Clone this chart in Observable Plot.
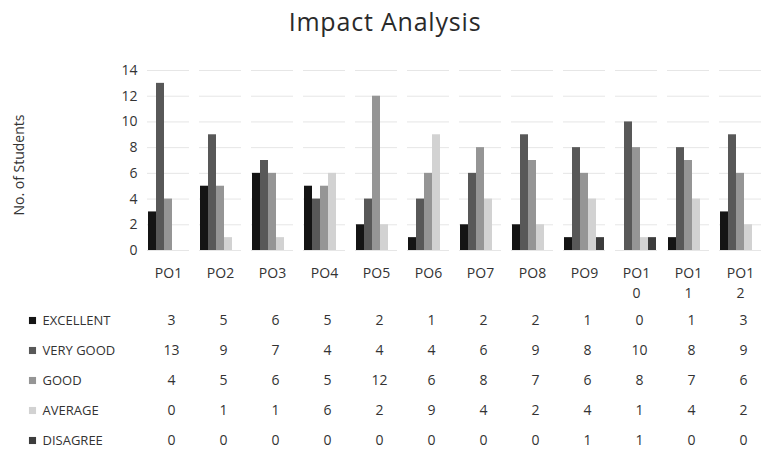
<!DOCTYPE html>
<html>
<head>
<meta charset="utf-8">
<script src="https://cdn.jsdelivr.net/npm/d3@7"></script>
<script src="https://cdn.jsdelivr.net/npm/@observablehq/plot@0.6"></script>
<style>
  html, body { margin: 0; padding: 0; background: #fff; }
  #wrap { width: 768px; height: 450px; position: relative; font-family: "Open Sans", sans-serif; color: #333; overflow: hidden; }
  #title { height: 45px; line-height: 42px; text-align: center; font-size: 25px; letter-spacing: 0.8px; color: #2a2a2a; padding-left: 2px; }
  #ylabel { position: absolute; left: 18px; top: 165px; transform: translate(-50%, -50%) rotate(-90deg); white-space: nowrap; font-size: 14px; color: #333; }
  svg { display: block; }
</style>
</head>
<body>
<div id="wrap">
  <div id="title">Impact Analysis</div>
  <div id="ylabel">No. of Students</div>
  <div id="chart"></div>
  <div id="table"></div>
</div>
<script>
const categories = ["PO1","PO2","PO3","PO4","PO5","PO6","PO7","PO8","PO9","PO10","PO11","PO12"];
const series = ["Excellent","Very Good","Good","Average","Disagree"];
const excellent = [3,5,6,5,2,1,2,2,1,0,1,3];
const veryGood  = [13,9,7,4,4,4,6,9,8,10,8,9];
const good      = [4,5,6,5,12,6,8,7,6,8,7,6];
const average   = [0,1,1,6,2,9,4,2,4,1,4,2];
const disagree  = [0,0,0,0,0,0,0,0,1,1,0,0];
const yTicks = [0,2,4,6,8,10,12,14];
const colors = ["#141414","#585858","#959595","#d2d2d2","#3c3c3c"];

const valuesBySeries = [excellent, veryGood, good, average, disagree];
const rows = [];
series.forEach((s, i) => categories.forEach((c, j) => rows.push({po: c, series: s, value: valuesBySeries[i][j]})));

const labelFmt = d => d.length > 3 ? d.slice(0, 3) + "\n" + d.slice(3) : d;
const font = "'Open Sans', sans-serif";

const chart = Plot.plot({
  width: 768,
  height: 265,
  marginLeft: 142,
  marginRight: 2,
  marginTop: 25,
  marginBottom: 60,
  style: {fontFamily: font, fontSize: "14px", color: "#333", background: "#fff"},
  fx: {domain: categories, paddingInner: 0.2, paddingOuter: 0.1, label: null, axis: null},
  x: {domain: series, padding: 0, axis: null},
  y: {domain: [0, 14], ticks: yTicks, label: null, axis: null},
  color: {domain: series, range: colors},
  marks: [
    Plot.gridY(yTicks, {stroke: "#e6e6e6", strokeOpacity: 1}),
    Plot.axisY(yTicks, {tickSize: 0, tickPadding: 10, fontSize: 14, fill: "#333", label: null}),
    Plot.axisFx({anchor: "bottom", tickSize: 0, tickPadding: 14, fontSize: 14, fill: "#333", tickFormat: labelFmt, label: null, lineHeight: 1.4}),
    Plot.barY(rows, {fx: "po", x: "series", y: "value", fill: "series", inset: 0})
  ]
});
document.getElementById("chart").appendChild(chart);

const table = Plot.plot({
  width: 768,
  height: 140,
  marginLeft: 142,
  marginRight: 2,
  marginTop: 10,
  marginBottom: 10,
  style: {fontFamily: font, fontSize: "14px", color: "#333", background: "#fff"},
  x: {domain: categories, type: "band", padding: 0, axis: null},
  y: {domain: series, type: "point", padding: 0, axis: null},
  color: {domain: series, range: colors},
  marks: [
    Plot.text(rows, {x: "po", y: "series", text: d => String(d.value), fontSize: 14, fill: "#333", dx: 3}),
    Plot.dot(series, {y: d => d, frameAnchor: "left", dx: -110, symbol: "square", r: 4, fill: d => d, stroke: "none"}),
    Plot.text(series, {y: d => d, frameAnchor: "left", dx: -100, textAnchor: "start", text: d => d.toUpperCase(), fontSize: 13, fill: "#333", letterSpacing: "0.5px"})
  ]
});
document.getElementById("table").appendChild(table);
</script>
</body>
</html>
